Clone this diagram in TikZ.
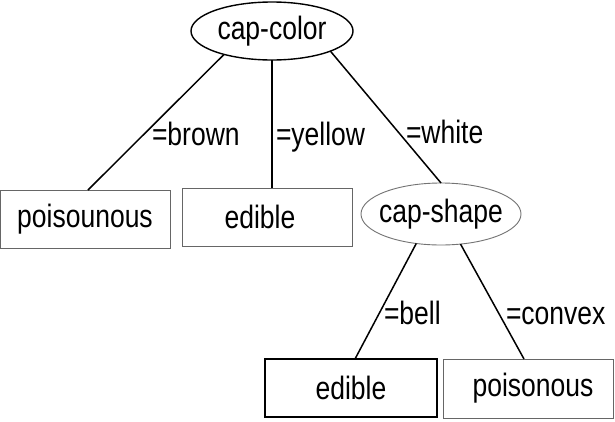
\documentclass[tikz,border=0pt]{standalone}
\usepackage{fontspec}
\usepackage{graphicx}
\setmainfont{Liberation Sans}
\usetikzlibrary{shapes.geometric}
\newcommand{\tallt}[1]{\scalebox{1}[1.22]{#1}}
\tikzset{
  every node/.style={font=\fontsize{26.5}{30}\selectfont, inner sep=0pt, outer sep=0pt},
  attr/.style={ellipse, draw, line width=1.4pt, minimum width=162pt, minimum height=58pt},
  attrg/.style={ellipse, draw=black!55, line width=0.9pt, inner xsep=-6pt, minimum width=160pt, minimum height=62pt},
  leaf/.style={rectangle, draw=black!60, line width=1pt, minimum width=170pt, minimum height=58pt},
  leafb/.style={rectangle, draw=black, line width=2pt, minimum width=172pt, minimum height=58pt},
  edge/.style={line width=1.5pt},
  lab/.style={anchor=base west}
}
\begin{document}
\begin{tikzpicture}[x=1pt,y=1pt]
\useasboundingbox[fill=white] (0,0) rectangle (615,-421);
\node[attr] (cc) at (272,-31) {\tallt{cap-color}};
\node[attrg] (cs) at (441,-214) {\tallt{cap-shape}};
\node[leaf] (p1) at (85,-219) {\tallt{poisounous}};
\node[leaf] (e1) at (267,-217) {\hspace*{-14pt}\tallt{edible}};
\node[leafb] (e2) at (351,-388) {\tallt{edible}};
\node[leaf, minimum width=170pt, minimum height=59pt] (p2) at (528,-388.5) {\hspace*{10pt}\tallt{poisonous}};
\draw[edge] (cc.206) -- ([xshift=3pt]p1.north);
\draw[edge] (cc.south) -- (cc.south |- e1.north);
\draw[edge] (cc.341) -- (cs.north);
\draw[edge] (cs.230) -- ([xshift=4pt]e2.north);
\draw[edge] (cs.303) -- ([xshift=-4pt]p2.north);
\node[lab] (lb) at (152,-145) {\tallt{=brown}};
\node[lab] (ly) at (276,-145) {\tallt{=yellow}};
\node[lab] (lw) at (406,-143) {\tallt{=white}};
\node[lab] (lbe) at (384,-324) {\tallt{=bell}};
\node[lab] (lcv) at (506,-324) {\tallt{=convex}};
\end{tikzpicture}
\end{document}
